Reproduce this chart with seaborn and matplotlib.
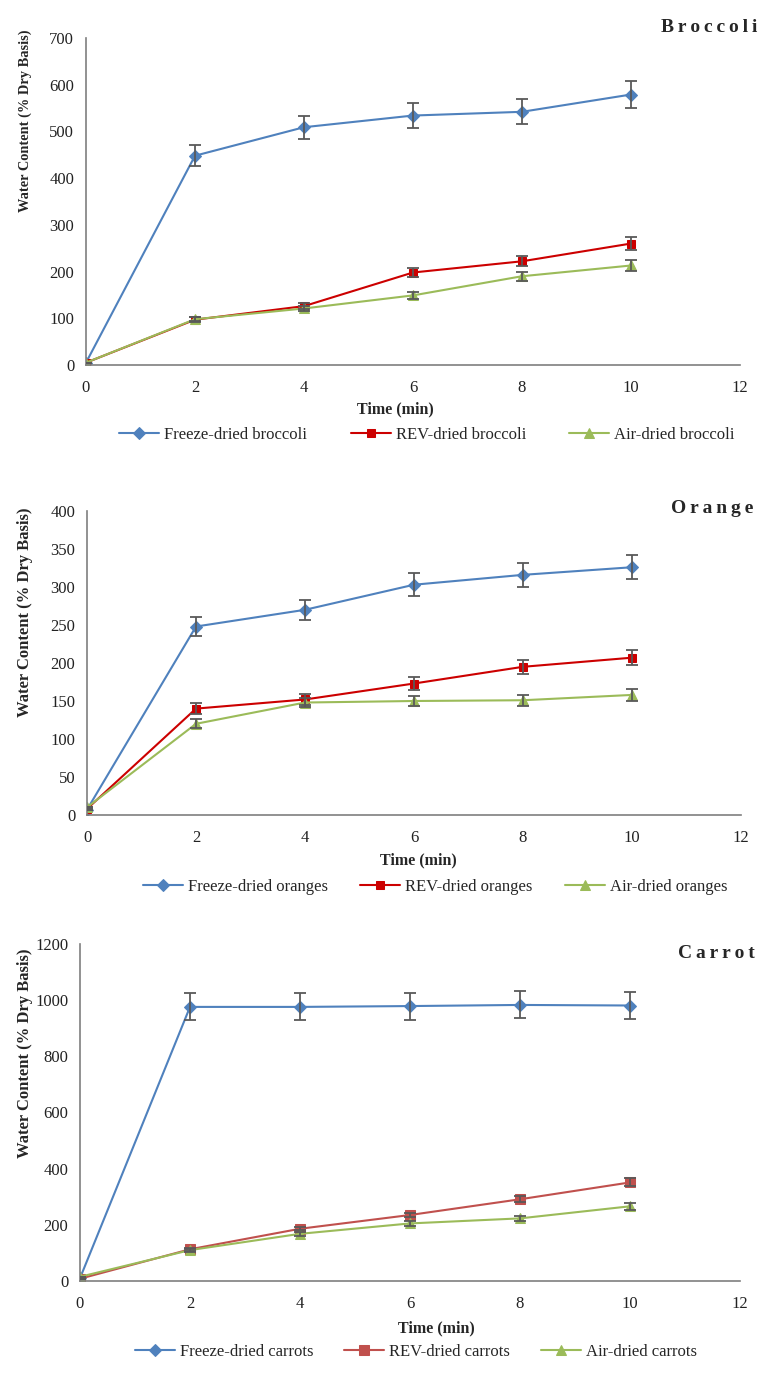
import numpy as np
import pandas as pd
import matplotlib
matplotlib.use("Agg")
import matplotlib.pyplot as plt
import seaborn as sns

sns.set_style("white")
plt.rcParams['font.family'] = ['Liberation Serif', 'DejaVu Serif']

time = [0, 2, 4, 6, 8, 10]

# Broccoli
broc_freeze = [5, 448, 509, 534, 542, 579]
broc_freeze_err = [0, 22, 25, 27, 27, 29]
broc_rev = [5, 97, 126, 198, 222, 260]
broc_rev_err = [0, 5, 6, 10, 11, 13]
broc_air = [5, 98, 121, 149, 190, 213]
broc_air_err = [0, 4, 5, 8, 10, 11]

# Orange
orng_freeze = [7, 248, 270, 303, 316, 326]
orng_freeze_err = [0, 12, 13, 15, 16, 16]
orng_rev = [8, 140, 152, 173, 195, 207]
orng_rev_err = [0, 7, 7, 8, 9, 10]
orng_air = [10, 120, 148, 150, 151, 158]
orng_air_err = [0, 6, 6, 7, 7, 8]

# Carrot
carr_freeze = [10, 976, 976, 979, 983, 981]
carr_freeze_err = [0, 48, 48, 48, 48, 48]
carr_rev = [8, 113, 186, 235, 291, 351]
carr_rev_err = [0, 5, 6, 8, 10, 14]
carr_air = [15, 110, 168, 205, 223, 266]
carr_air_err = [0, 5, 6, 8, 10, 12]

W, H = 777, 1377
fig = plt.figure(figsize=(W / 100, H / 100), dpi=100)


def rect(l, t, r, b):
    return [l / W, 1 - b / H, (r - l) / W, (b - t) / H]


def spaced(s):
    return "\u2009".join(s)


BLUE = "#4F81BD"
GREEN = "#9BBB59"
ERR = "#595959"

panels = [
    dict(rect=rect(86, 38, 740, 365), ymax=700, ystep=100, title="Broccoli",
         title_xy=(757, 27), ylab_xy=(25, 121), ylab_fs=10.4,
         xlab_xy=(395, 409), leg_xy=(427, 435), colsp=2.6,
         red="#CC0000", red_ms=5.5,
         series=[("Freeze-dried broccoli", broc_freeze, broc_freeze_err),
                 ("REV-dried broccoli", broc_rev, broc_rev_err),
                 ("Air-dried broccoli", broc_air, broc_air_err)]),
    dict(rect=rect(87, 511, 741, 815), ymax=400, ystep=50, title="Orange",
         title_xy=(753, 508), ylab_xy=(25, 612), ylab_fs=12,
         xlab_xy=(418, 860), leg_xy=(435, 887), colsp=1.95,
         red="#CC0000", red_ms=5.5,
         series=[("Freeze-dried oranges", orng_freeze, orng_freeze_err),
                 ("REV-dried oranges", orng_rev, orng_rev_err),
                 ("Air-dried oranges", orng_air, orng_air_err)]),
    dict(rect=rect(80, 944, 740, 1281), ymax=1200, ystep=200, title="Carrot",
         title_xy=(755, 953), ylab_xy=(25, 1053), ylab_fs=12,
         xlab_xy=(436, 1328), leg_xy=(416, 1352), colsp=1.85,
         red="#C0504D", red_ms=7,
         series=[("Freeze-dried carrots", carr_freeze, carr_freeze_err),
                 ("REV-dried carrots", carr_rev, carr_rev_err),
                 ("Air-dried carrots", carr_air, carr_air_err)]),
]

for p in panels:
    ax = fig.add_axes(p["rect"])
    styles = [(BLUE, "D", 6), (p["red"], "s", p["red_ms"]), (GREEN, "^", 7.5)]
    for (name, vals, err), (col, mk, ms) in zip(p["series"], styles):
        df = pd.DataFrame({"time": time, "value": vals})
        sns.lineplot(data=df, x="time", y="value", color=col, marker=mk,
                     markersize=ms, markeredgecolor=col, linewidth=1.5,
                     label=name, ax=ax, legend=False, zorder=2)
        ax.errorbar(time, vals, yerr=err, fmt="none", ecolor=ERR,
                    elinewidth=1.3, capsize=4, capthick=1.3, zorder=3)

    ax.set_xlim(0, 12)
    ax.set_ylim(0, p["ymax"])
    ax.set_xticks(range(0, 13, 2))
    ax.set_yticks(np.arange(0, p["ymax"] + 1, p["ystep"]))
    for s in ["top", "right"]:
        ax.spines[s].set_visible(False)
    for s in ["left", "bottom"]:
        ax.spines[s].set_color("#7F7F7F")
        ax.spines[s].set_linewidth(1.2)
    ax.tick_params(axis="both", direction="out", length=5, width=1,
                   color="#7F7F7F", labelsize=12, labelcolor="#222222")
    ax.tick_params(axis="x", pad=6)
    ax.set_xlabel("")
    ax.set_ylabel("")

    fig.text(p["ylab_xy"][0] / W, 1 - p["ylab_xy"][1] / H,
             "Water Content (% Dry Basis)", rotation=90, fontweight="bold",
             fontsize=p["ylab_fs"], ha="center", va="center")
    fig.text(p["xlab_xy"][0] / W, 1 - p["xlab_xy"][1] / H, "Time (min)",
             fontweight="bold", fontsize=11.5, ha="center", va="center")
    fig.text(p["title_xy"][0] / W, 1 - p["title_xy"][1] / H,
             spaced(p["title"]), fontweight="bold", fontsize=14,
             ha="right", va="center")

    h, l = ax.get_legend_handles_labels()
    fig.legend(h, l, loc="center", ncol=3, frameon=False, fontsize=12,
               handlelength=2.4, columnspacing=p["colsp"], handletextpad=0.3,
               bbox_to_anchor=(p["leg_xy"][0] / W, 1 - p["leg_xy"][1] / H))

fig.savefig("out.png", dpi=100)
